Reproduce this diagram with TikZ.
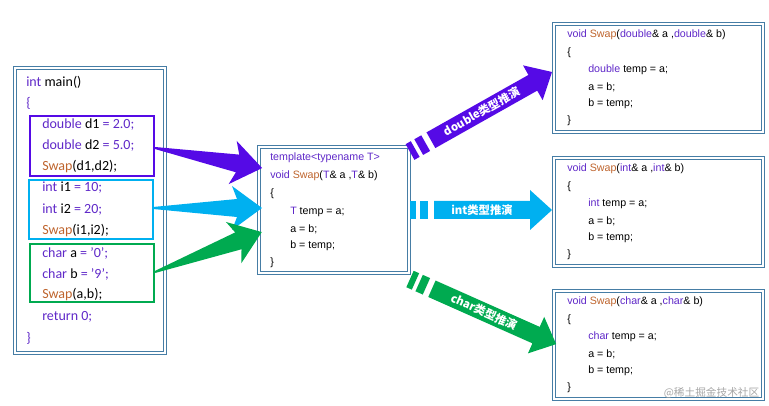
\documentclass[tikz,border=0pt]{standalone}
\usepackage{fontspec}
\setmainfont{Carlito}
\newfontfamily\codefont{Liberation Sans}
\newfontfamily\cjk{Noto Sans CJK SC}
\usetikzlibrary{positioning}

\definecolor{kwcol}{RGB}{95,40,200}
\definecolor{fncol}{RGB}{190,100,45}
\definecolor{boxcol}{RGB}{70,125,165}
\definecolor{arrpurple}{RGB}{85,10,230}
\definecolor{arrcyan}{RGB}{0,176,240}
\definecolor{arrgreen}{RGB}{0,170,80}
\newcommand{\kw}[1]{\textcolor{kwcol}{#1}}
\newcommand{\fn}[1]{\textcolor{fncol}{#1}}

\tikzset{
  codebox/.style={draw=boxcol, double=white, double distance=1.6pt, line width=0.6pt},
  groupbox/.style={draw=#1, line width=0.8pt},
  mainline/.style={anchor=west, inner sep=0pt, font=\fontsize{10.5}{12}\selectfont},
  smallline/.style={anchor=west, inner sep=0pt, font=\codefont\fontsize{8}{9}\selectfont},
  bandlabel/.style={text=white, font=\cjk\bfseries\fontsize{8.5}{9}\selectfont, inner sep=0pt}
}
% tapered arrow: colour, start, angle, length
\newcommand{\taper}[4]{%
  \begin{scope}[shift={#2}, rotate=#3]
    \fill[#1] (0,-1) -- (#4-25,-9) -- (#4-30,-22) -- (#4,0) -- (#4-30,22) -- (#4-25,9) -- (0,1) -- cycle;
  \end{scope}}
% band arrow: colour, start, angle, length, label
\newcommand{\band}[5]{%
  \begin{scope}[shift={#2}, rotate=#3]
    \fill[#1] (0,-9) rectangle (6,9);
    \fill[#1] (10,-9) rectangle (18,9);
    \fill[#1] (24,-9) -- (#4-22,-9) -- (#4-22,-20) -- (#4,0) -- (#4-22,20) -- (#4-22,9) -- (24,9) -- cycle;
    \node[bandlabel, rotate=#3] (lbl#1) at ({(#4+2)/2},0) {#5};
  \end{scope}}

\begin{document}
\begin{tikzpicture}[x=0.75pt, y=-0.75pt]
\useasboundingbox (0,0) rectangle (769,406);

% main()
\draw[codebox] (15,68) rectangle (165,353);
\draw[groupbox=arrpurple] (30,116) rectangle (154,176);
\draw[groupbox=arrcyan] (29,180) rectangle (153,239);
\draw[groupbox=arrgreen] (30,244) rectangle (154,302);
\node[mainline] (m1) at (26,82) {\kw{int} main()};
\node[mainline] (m2) at (26,103) {\kw{\{}};
\foreach \y/\t [count=\i from 3] in {
  125/{\kw{double} d1 \kw{= 2.0;}},
  146/{\kw{double} d2 \kw{= 5.0;}},
  167/{\fn{Swap}(d1,d2);},
  188/{\kw{int} i1 \kw{= 10;}},
  210/{\kw{int} i2 \kw{= 20;}},
  231/{\fn{Swap}(i1,i2);},
  253/{\kw{char} a \kw{= '0';}},
  274/{\kw{char} b \kw{= '9';}},
  295/{\fn{Swap}(a,b);},
  317/{\kw{return 0;}}}
  \node[mainline] (m\i) at (42,\y) {\t};
\node[mainline] (m13) at (26,338) {\kw{\}}};

% template
\draw[codebox] (259,147) rectangle (409,273);
\node[smallline] (t1) at (270,158) {\kw{template<typename T>}};
\node[smallline] (t2) at (270,176) {\kw{void} \fn{Swap}(\kw{T}\& a ,\kw{T}\& b)};
\node[smallline] (t3) at (270,194) {\{};
\node[smallline] (t4) at (290,212) {\kw{T} temp = a;};
\node[smallline] (t5) at (290,229) {a = b;};
\node[smallline] (t6) at (290,246) {b = temp;};
\node[smallline] (t7) at (270,263) {\}};

% instantiations
\foreach \top/\ty [count=\k] in {24/double, 158/int, 291/char} {
  \draw[codebox] (554,\top) rectangle (763,\top+108);
  \node[smallline] (r\k a) at (567,\top+11) {\kw{void} \fn{Swap}(\kw{\ty}\& a ,\kw{\ty}\& b)};
  \node[smallline] (r\k b) at (567,\top+29) {\{};
  \node[smallline] (r\k c) at (588,\top+46) {\kw{\ty} temp = a;};
  \node[smallline] (r\k d) at (588,\top+63) {a = b;};
  \node[smallline] (r\k e) at (588,\top+80) {b = temp;};
  \node[smallline] (r\k f) at (567,\top+97) {\}};
}

% arrows
\taper{arrpurple}{(155,148)}{-10.6}{109}
\taper{arrcyan}{(153,208)}{0}{109}
\taper{arrgreen}{(155,272)}{20.5}{114}
\band{arrpurple}{(410,152)}{29.4}{163}{double类型推演}
\band{arrcyan}{(410,210)}{0}{142}{int类型推演}
\band{arrgreen}{(410,279)}{-24}{160}{char类型推演}

\node[anchor=east, text=gray!70, font=\cjk\fontsize{8}{9}\selectfont] (wm) at (764,393) {@稀土掘金技术社区};
\end{tikzpicture}
\end{document}
